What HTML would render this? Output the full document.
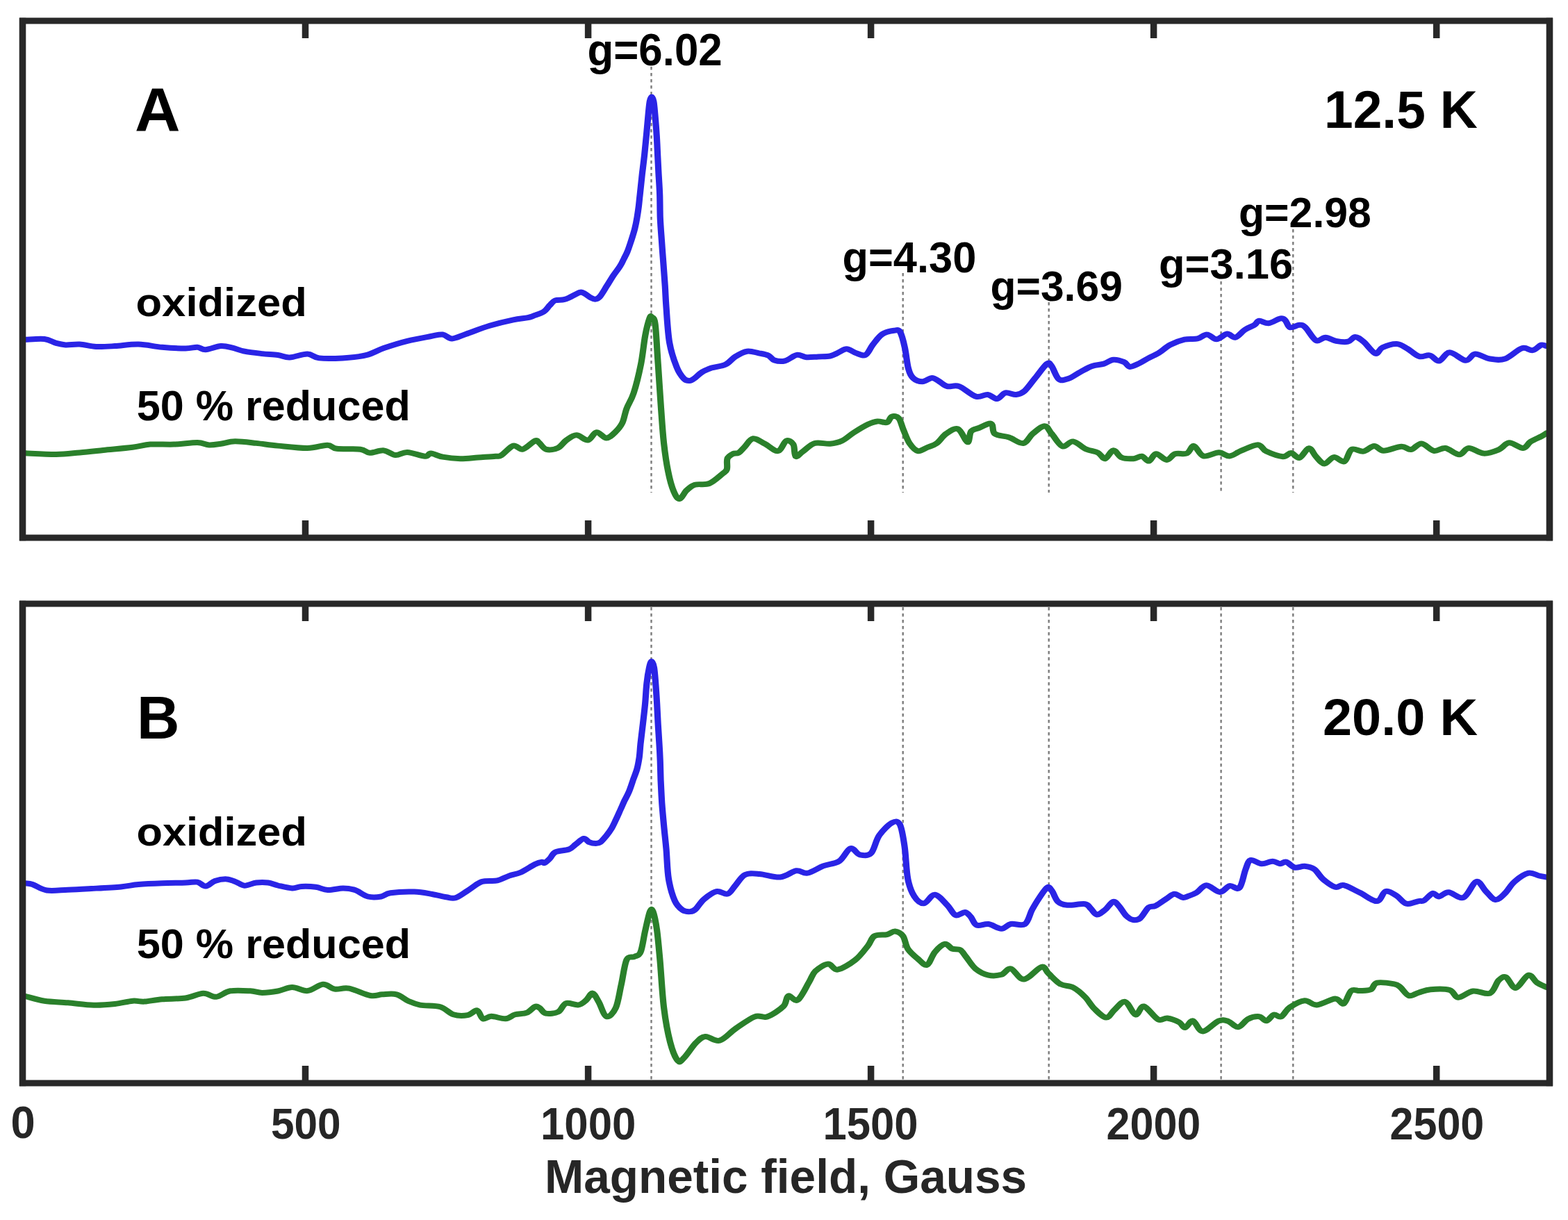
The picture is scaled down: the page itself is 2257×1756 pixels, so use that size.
<!DOCTYPE html>
<html><head><meta charset="utf-8"><title>EPR spectra, oxidized vs 50% reduced</title>
<style>html,body{margin:0;padding:0;background:#fff;} svg{display:block;}</style></head>
<body><svg width="2257" height="1756" viewBox="0 0 2257 1756">
<rect width="2257" height="1756" fill="#fff"/>
<path d="M937.5,96V709M937.5,874V1554" stroke="#7c7c7c" stroke-width="2.4" stroke-dasharray="4.5 4.5"/>
<path d="M1299.7,393V709M1299.7,874V1554" stroke="#7c7c7c" stroke-width="2.4" stroke-dasharray="4.5 4.5"/>
<path d="M1509.7,435V709M1509.7,874V1554" stroke="#7c7c7c" stroke-width="2.4" stroke-dasharray="4.5 4.5"/>
<path d="M1757.6,405V709M1757.6,874V1554" stroke="#7c7c7c" stroke-width="2.4" stroke-dasharray="4.5 4.5"/>
<path d="M1861.3,330V709M1861.3,874V1554" stroke="#7c7c7c" stroke-width="2.4" stroke-dasharray="4.5 4.5"/>
<g transform="scale(1.15,1)" fill="none" stroke-width="8" stroke-linejoin="round" stroke-linecap="round">
<path d="M32.0,488.8C35.9,488.7 49.2,487.1 55.6,488.0C61.9,488.9 65.8,492.5 70.3,493.9C74.7,495.3 77.2,496.1 82.1,496.4C87.0,496.7 93.4,495.2 99.7,495.6C106.1,496.0 113.0,498.6 120.3,499.0C127.7,499.4 135.1,498.7 143.9,498.1C152.8,497.5 163.6,495.3 173.4,495.6C183.2,495.9 193.0,498.8 202.9,499.8C212.7,500.8 225.0,501.5 232.3,501.5C239.7,501.5 242.9,499.5 247.0,499.8C251.2,500.1 252.5,503.5 257.4,503.2C262.3,502.9 270.9,498.5 276.5,498.1C282.2,497.7 286.3,499.4 291.2,500.7C296.1,502.0 299.9,504.3 306.0,505.7C312.1,507.1 321.1,508.2 328.1,509.1C335.1,510.0 342.1,510.1 347.8,511.0C353.6,511.9 356.4,514.8 362.5,514.5C368.7,514.2 378.6,509.4 384.7,509.5C390.8,509.6 392.0,514.4 399.4,515.4C406.8,516.4 419.0,516.1 428.9,515.4C438.7,514.7 449.8,513.6 458.3,511.2C466.9,508.8 471.9,504.4 480.4,501.0C489.0,497.6 500.0,493.6 509.8,490.8C519.6,488.0 531.9,485.6 539.3,484.0C546.7,482.4 549.7,480.9 554.1,481.5C558.5,482.1 560.9,487.5 565.8,487.4C570.7,487.3 575.6,483.8 583.5,480.7C591.3,477.6 603.1,472.2 613.0,468.8C622.8,465.4 634.4,462.2 642.4,460.3C650.4,458.4 656.4,458.3 660.9,457.2C665.3,456.1 666.0,455.3 669.3,453.9C672.6,452.5 677.5,451.1 680.6,448.7C683.7,446.3 685.6,442.4 687.9,439.7C690.3,437.0 691.7,433.9 694.7,432.5C697.7,431.1 702.6,432.1 705.9,431.2C709.2,430.3 711.1,429.1 714.3,427.4C717.6,425.7 722.8,421.8 725.7,420.9C728.5,420.0 729.0,420.9 731.3,422.2C733.7,423.5 737.4,427.3 739.7,428.7C742.1,430.1 743.5,430.9 745.4,430.6C747.3,430.3 748.6,429.8 751.0,426.7C753.3,423.6 756.6,416.9 759.4,411.8C762.2,406.7 765.1,401.2 767.9,396.3C770.7,391.4 774.2,386.7 776.3,382.7C778.5,378.7 779.4,375.9 780.9,372.5C782.3,369.1 783.7,366.8 785.2,362.4C786.8,358.0 788.6,351.4 790.2,345.9C791.7,340.4 793.3,334.9 794.5,329.4C795.7,323.9 796.6,318.5 797.4,313.0C798.2,307.5 798.9,301.9 799.5,296.5C800.1,291.1 800.2,287.9 801.0,280.3C801.7,272.8 802.8,260.9 803.7,251.2C804.7,241.5 805.8,231.8 806.7,222.1C807.6,212.4 808.4,202.7 809.2,193.0C810.0,183.3 810.8,171.6 811.5,163.8C812.2,156.0 812.6,150.1 813.3,146.0C814.0,141.9 814.9,139.5 815.7,139.5C816.4,139.5 817.4,141.9 818.1,146.0C818.8,150.1 819.2,156.0 819.8,163.8C820.4,171.6 821.3,183.3 821.8,193.0C822.4,202.7 822.7,212.4 823.1,222.1C823.6,231.8 824.0,241.5 824.4,251.2C824.9,260.9 825.5,270.0 825.8,280.3C826.1,290.6 826.0,302.1 826.3,313.0C826.7,323.9 827.5,334.9 828.2,345.9C828.8,356.9 829.6,367.8 830.3,378.8C831.0,389.8 831.8,401.3 832.4,411.8C833.0,422.3 833.0,428.2 833.9,441.8C834.8,455.4 835.8,479.0 838.0,493.4C840.2,507.8 844.0,519.8 847.0,528.4C849.9,537.0 853.2,541.6 855.9,544.9C858.6,548.2 860.8,548.1 863.1,548.0C865.4,547.9 867.1,546.2 869.7,544.1C872.3,542.0 875.2,538.0 878.7,535.6C882.2,533.2 885.6,531.5 890.5,529.6C895.5,527.8 903.4,527.2 908.3,524.5C913.3,521.8 915.8,516.5 920.3,513.4C924.7,510.3 930.1,506.5 935.0,505.7C940.0,504.9 945.4,507.3 949.9,508.3C954.4,509.3 958.6,510.0 961.8,511.7C965.0,513.4 965.8,517.2 969.2,518.5C972.7,519.8 977.9,520.7 982.6,519.4C987.3,518.1 992.9,511.7 997.4,510.8C1001.8,509.9 1004.9,513.8 1009.3,514.2C1013.8,514.6 1019.1,513.7 1024.1,513.4C1029.0,513.1 1035.0,513.4 1039.0,512.5C1042.9,511.6 1044.4,510.0 1047.9,508.3C1051.4,506.6 1055.8,502.3 1059.7,502.3C1063.7,502.3 1067.7,506.9 1071.7,508.3C1075.6,509.7 1080.0,512.8 1083.5,510.8C1086.9,508.8 1089.0,501.3 1092.4,496.3C1095.9,491.3 1099.8,484.4 1104.3,481.0C1108.7,477.6 1115.4,476.4 1119.1,475.8C1122.8,475.2 1124.3,473.5 1126.5,477.5C1128.7,481.5 1130.7,490.9 1132.4,499.7C1134.2,508.5 1135.2,523.1 1137.0,530.5C1138.7,537.9 1139.9,541.0 1142.9,544.1C1145.8,547.2 1150.7,549.2 1154.7,549.2C1158.7,549.2 1163.1,544.0 1166.6,544.0C1170.1,544.0 1172.3,547.0 1175.5,549.0C1178.7,551.0 1181.6,554.9 1185.8,556.1C1190.0,557.3 1194.7,553.7 1200.6,556.1C1206.5,558.5 1215.4,568.6 1221.4,570.6C1227.3,572.6 1231.8,567.4 1236.3,568.0C1240.7,568.6 1244.4,574.4 1248.1,574.0C1251.8,573.6 1254.6,566.4 1258.5,565.4C1262.5,564.4 1267.9,568.4 1271.8,568.0C1275.8,567.6 1278.3,566.9 1282.3,562.9C1286.2,558.9 1291.0,550.6 1295.7,544.1C1300.3,537.6 1307.0,526.5 1310.4,523.6C1313.9,520.8 1313.9,523.3 1316.3,527.0C1318.8,530.7 1321.8,542.8 1325.3,545.8C1328.8,548.8 1332.7,546.7 1337.1,545.0C1341.6,543.3 1347.0,538.6 1352.0,535.6C1357.0,532.6 1361.9,529.0 1366.9,527.0C1371.8,525.0 1377.2,525.1 1381.7,523.6C1386.1,522.1 1389.3,518.1 1393.6,517.7C1397.8,517.3 1403.5,519.4 1407.0,521.1C1410.4,522.8 1411.1,527.6 1414.3,527.9C1417.6,528.2 1422.3,524.9 1426.3,522.8C1430.2,520.7 1434.1,517.5 1438.1,515.1C1442.0,512.7 1445.6,511.4 1450.0,508.3C1454.4,505.2 1459.3,499.6 1464.8,496.3C1470.2,493.0 1476.9,490.1 1482.6,488.6C1488.3,487.1 1494.2,488.6 1498.9,487.4C1503.6,486.2 1506.7,481.2 1510.7,481.4C1514.7,481.5 1518.4,488.4 1522.6,488.3C1526.8,488.2 1532.0,481.0 1535.9,480.6C1539.9,480.2 1542.6,486.7 1546.3,485.7C1550.1,484.7 1554.2,477.6 1558.2,474.6C1562.1,471.6 1567.1,469.9 1570.1,467.8C1573.1,465.7 1573.0,462.2 1576.0,461.8C1579.0,461.4 1583.5,465.8 1587.9,465.2C1592.4,464.6 1599.2,459.1 1602.7,458.4C1606.2,457.7 1606.7,458.9 1608.7,461.0C1610.7,463.1 1611.7,470.1 1614.6,471.2C1617.6,472.3 1623.2,467.8 1626.4,467.8C1629.7,467.8 1630.4,467.5 1633.9,471.2C1637.4,474.9 1643.0,487.6 1647.2,490.0C1651.4,492.4 1654.9,485.6 1659.1,485.7C1663.3,485.8 1667.7,489.8 1672.4,490.8C1677.1,491.8 1683.3,492.7 1687.3,491.7C1691.3,490.7 1693.0,484.9 1696.3,484.9C1699.5,484.9 1702.4,487.7 1706.6,491.7C1710.8,495.7 1717.5,507.4 1721.5,508.8C1725.4,510.2 1725.9,502.5 1730.3,500.2C1734.8,497.9 1743.0,494.8 1748.2,495.1C1753.4,495.4 1756.9,498.9 1761.6,501.9C1766.3,504.9 1771.7,511.4 1776.3,513.0C1781.0,514.6 1785.6,510.4 1789.7,511.5C1793.9,512.6 1797.1,520.2 1801.2,519.5C1805.3,518.8 1809.0,507.4 1814.5,507.3C1820.1,507.2 1829.2,518.4 1834.5,518.8C1839.8,519.2 1841.3,510.0 1846.4,509.6C1851.5,509.2 1858.8,515.4 1865.0,516.5C1871.3,517.6 1877.1,519.0 1883.7,516.5C1890.4,514.0 1899.2,503.2 1905.0,501.2C1910.7,499.1 1914.3,505.0 1918.3,504.2C1922.3,503.4 1926.1,497.6 1929.0,496.6C1931.8,495.6 1934.5,497.9 1935.6,498.1" stroke="#2a24e6"/>
<path d="M32.0,652.3C38.4,652.6 59.0,654.1 70.3,654.0C81.6,653.9 89.9,652.4 99.7,651.4C109.6,650.4 118.2,649.3 129.2,648.0C140.3,646.7 156.2,645.2 166.0,643.8C175.8,642.4 179.5,640.3 188.1,639.6C196.7,638.9 207.7,640.0 217.6,639.6C227.4,639.2 239.7,636.9 247.0,637.0C254.4,637.1 256.8,640.1 261.7,640.4C266.7,640.7 271.1,639.6 276.5,638.7C281.9,637.9 286.8,635.4 294.2,635.3C301.5,635.2 311.8,636.8 320.7,637.9C329.6,639.0 337.2,640.4 347.8,641.6C358.5,642.8 374.4,645.1 384.7,645.0C395.0,644.9 403.6,640.6 409.7,640.7C415.9,640.8 414.6,644.8 421.5,645.8C428.3,646.8 444.1,645.7 451.0,646.7C457.8,647.7 457.8,651.5 462.7,651.8C467.6,652.1 475.0,647.8 480.4,648.4C485.8,649.0 490.2,654.7 495.1,655.1C500.0,655.5 503.7,650.6 509.8,650.9C516.0,651.2 527.1,656.5 532.0,656.8C536.9,657.1 535.6,652.5 539.3,652.6C543.0,652.8 547.9,656.4 554.1,657.7C560.2,659.0 568.8,660.1 576.2,660.2C583.5,660.3 590.9,659.1 598.3,658.5C605.6,657.9 615.4,657.4 620.3,656.8C625.3,656.2 624.1,657.6 627.7,655.1C631.4,652.6 638.0,643.0 642.4,641.6C646.9,640.2 649.7,647.9 654.3,646.7C658.8,645.5 666.1,636.0 669.6,634.5C673.0,633.0 672.6,635.5 675.0,637.6C677.3,639.7 680.0,645.7 683.9,646.9C687.8,648.1 694.1,647.0 698.3,644.8C702.4,642.6 705.1,636.6 709.0,633.5C712.8,630.4 717.1,626.3 721.6,626.3C726.1,626.3 731.7,634.2 735.9,633.5C740.1,632.8 742.7,622.7 746.6,622.2C750.5,621.7 755.2,630.4 759.1,630.4C763.0,630.4 766.6,625.8 769.9,622.2C773.2,618.6 776.5,614.5 778.9,608.8C781.3,603.1 781.9,595.4 784.3,588.2C786.7,581.0 790.2,576.1 793.2,565.5C796.2,554.9 799.8,538.0 802.2,524.3C804.6,510.5 805.8,494.0 807.6,483.0C809.4,472.0 811.6,462.8 813.0,458.3C814.3,453.9 814.5,454.9 815.7,456.3C816.8,457.7 818.8,455.3 820.1,466.6C821.4,477.9 822.4,504.4 823.7,524.3C824.9,544.2 826.1,567.2 827.3,586.1C828.5,605.0 829.4,622.2 830.9,637.6C832.4,653.0 834.2,667.1 836.3,678.8C838.3,690.5 841.0,701.2 843.4,707.7C845.8,714.2 847.9,718.4 850.6,718.0C853.3,717.6 856.4,709.0 859.6,705.6C862.8,702.2 865.1,699.3 869.7,697.7C874.4,696.1 881.9,698.5 887.6,696.0C893.3,693.5 900.2,685.8 903.9,682.4C907.6,679.0 908.7,679.2 909.8,675.5C910.9,671.8 909.2,663.9 910.4,660.2C911.7,656.5 914.9,654.7 917.3,653.3C919.7,651.9 922.2,653.3 924.7,651.6C927.2,649.9 929.1,646.5 932.1,643.1C935.1,639.7 938.3,631.9 942.5,631.2C946.7,630.5 952.1,635.8 957.3,638.8C962.5,641.8 969.2,649.8 973.7,649.1C978.1,648.4 980.9,636.2 984.1,634.6C987.3,633.0 991.0,636.0 993.0,639.7C994.9,643.4 993.9,655.1 995.9,656.8C997.9,658.5 1000.9,653.0 1004.9,649.9C1008.8,646.8 1014.0,639.9 1019.7,638.0C1025.3,636.1 1033.3,639.4 1039.0,638.8C1044.7,638.2 1048.9,637.3 1053.8,634.6C1058.8,631.9 1063.3,626.6 1068.7,622.6C1074.1,618.6 1081.5,613.4 1086.4,610.7C1091.4,608.0 1094.4,606.8 1098.3,606.4C1102.3,606.0 1107.2,609.2 1110.2,608.1C1113.1,607.0 1113.7,600.6 1116.2,599.6C1118.7,598.6 1122.6,598.8 1125.0,602.1C1127.5,605.4 1128.7,613.2 1131.0,619.2C1133.2,625.2 1135.5,633.0 1138.4,638.0C1141.4,643.0 1145.1,648.1 1148.8,649.1C1152.5,650.1 1156.7,645.9 1160.7,644.0C1164.7,642.1 1168.6,641.3 1172.5,638.0C1176.4,634.7 1179.8,627.7 1184.3,624.3C1188.7,620.9 1194.7,615.5 1199.1,617.5C1203.6,619.5 1208.3,635.7 1211.0,636.3C1213.8,636.9 1213.0,624.3 1215.5,620.9C1217.9,617.5 1221.6,617.6 1225.8,615.8C1230.0,613.9 1237.5,608.4 1240.7,609.8C1243.9,611.2 1241.4,621.0 1245.1,624.3C1248.8,627.6 1257.0,627.2 1263.0,629.5C1268.9,631.8 1275.8,638.9 1280.8,638.0C1285.7,637.1 1288.2,628.4 1292.6,624.3C1297.1,620.2 1303.5,613.2 1307.5,613.2C1311.4,613.2 1312.6,619.4 1316.3,624.3C1320.1,629.1 1325.3,640.4 1329.7,642.3C1334.2,644.1 1338.2,634.7 1343.1,635.4C1348.1,636.1 1354.2,643.8 1359.4,646.5C1364.6,649.2 1370.3,649.3 1374.3,651.6C1378.2,653.9 1380.0,660.8 1383.2,660.2C1386.4,659.6 1390.1,648.5 1393.6,648.2C1397.0,647.9 1399.7,656.5 1403.9,658.5C1408.1,660.5 1414.6,660.5 1418.8,660.2C1423.0,659.9 1426.0,656.2 1429.2,656.8C1432.4,657.4 1435.1,664.2 1438.1,663.6C1441.0,663.0 1443.2,653.6 1447.0,653.3C1450.7,653.0 1456.4,661.9 1460.3,661.9C1464.3,661.9 1466.6,654.9 1470.8,653.3C1475.0,651.7 1481.6,654.4 1485.6,652.5C1489.5,650.6 1490.9,641.2 1494.3,641.9C1497.8,642.5 1501.1,654.8 1506.3,656.4C1511.5,658.0 1520.1,651.3 1525.6,651.3C1531.0,651.3 1534.2,656.8 1538.9,656.4C1543.6,656.0 1547.8,651.4 1553.7,648.7C1559.7,646.0 1569.3,640.1 1574.5,640.2C1579.7,640.4 1579.7,646.8 1584.9,649.6C1590.1,652.4 1600.4,656.8 1605.7,657.2C1610.9,657.6 1612.6,651.8 1616.1,652.1C1619.6,652.4 1622.7,660.0 1626.4,658.9C1630.1,657.8 1634.9,645.6 1638.3,645.3C1641.8,645.0 1644.0,653.5 1647.2,657.2C1650.4,660.9 1653.9,667.4 1657.7,667.5C1661.4,667.6 1665.3,658.7 1669.5,658.1C1673.7,657.5 1679.2,666.0 1682.9,664.1C1686.6,662.2 1687.8,649.4 1691.7,647.0C1695.7,644.6 1701.9,650.5 1706.6,649.6C1711.3,648.8 1715.8,642.0 1720.0,641.9C1724.2,641.8 1726.1,648.6 1731.8,648.7C1737.5,648.8 1748.4,643.0 1754.1,642.7C1759.8,642.4 1761.8,647.7 1766.0,647.0C1770.2,646.3 1774.5,638.2 1779.3,638.5C1784.1,638.8 1789.6,647.7 1794.6,648.8C1799.6,649.9 1803.9,644.1 1809.2,645.0C1814.5,645.9 1821.7,654.2 1826.5,654.2C1831.4,654.2 1833.3,645.3 1838.4,645.0C1843.5,644.7 1850.9,652.2 1857.1,652.6C1863.3,653.0 1870.4,649.8 1875.7,647.3C1881.1,644.8 1883.9,637.7 1889.0,637.3C1894.1,636.9 1901.9,645.2 1906.3,645.0C1910.8,644.8 1911.9,638.6 1915.7,635.8C1919.4,633.0 1925.6,630.2 1929.0,628.2C1932.3,626.2 1934.5,624.4 1935.6,623.6" stroke="#2a802b"/>
<path d="M32.0,1271.3C33.5,1271.6 36.4,1271.3 40.8,1273.0C45.2,1274.7 51.1,1280.2 58.5,1281.5C65.9,1282.8 75.7,1281.1 85.0,1280.7C94.4,1280.3 103.4,1279.7 114.4,1279.0C125.5,1278.3 141.5,1277.4 151.3,1276.4C161.1,1275.4 164.8,1273.8 173.4,1273.0C182.0,1272.2 193.0,1271.7 202.9,1271.3C212.7,1270.9 225.0,1270.8 232.3,1270.5C239.7,1270.2 242.9,1268.8 247.0,1269.6C251.2,1270.4 253.7,1275.9 257.4,1275.6C261.1,1275.3 264.7,1269.7 269.1,1268.0C273.6,1266.3 279.5,1265.1 283.9,1265.4C288.3,1265.7 292.0,1268.0 295.7,1269.6C299.3,1271.1 301.8,1274.5 306.0,1274.7C310.2,1274.9 315.8,1271.2 320.7,1270.5C325.6,1269.8 331.0,1269.8 335.5,1270.5C340.0,1271.2 342.8,1273.2 347.8,1274.5C352.9,1275.8 360.7,1278.2 365.7,1278.5C370.6,1278.8 372.5,1276.3 377.5,1276.0C382.4,1275.7 389.9,1276.0 395.3,1276.8C400.8,1277.6 404.5,1280.8 410.2,1281.1C415.9,1281.4 423.8,1278.5 429.5,1278.5C435.2,1278.5 439.1,1279.1 444.3,1281.1C449.4,1283.1 455.2,1288.9 460.6,1290.5C466.1,1292.1 472.3,1291.4 477.0,1290.5C481.7,1289.6 481.9,1286.5 488.8,1285.3C495.7,1284.1 509.9,1283.3 518.5,1283.6C527.2,1283.9 534.1,1285.7 540.8,1287.0C547.5,1288.3 553.7,1290.4 558.6,1291.3C563.6,1292.2 566.0,1293.8 570.4,1292.2C574.9,1290.6 579.9,1285.8 585.3,1281.9C590.8,1278.1 596.9,1271.5 603.1,1269.1C609.3,1266.7 616.8,1268.8 622.4,1267.4C628.1,1266.0 632.3,1262.6 637.2,1260.6C642.2,1258.6 646.7,1258.3 652.1,1255.5C657.5,1252.7 665.2,1246.5 669.6,1244.0C673.9,1241.5 676.2,1241.0 678.3,1240.7C680.3,1240.4 680.0,1242.9 681.7,1242.0C683.4,1241.1 686.2,1238.1 688.4,1235.5C690.7,1232.9 691.2,1228.6 695.1,1226.4C699.1,1224.2 707.9,1224.3 712.1,1222.5C716.3,1220.7 717.4,1218.0 720.5,1215.4C723.6,1212.8 727.8,1207.5 730.6,1207.0C733.4,1206.5 734.9,1211.0 737.4,1212.2C739.9,1213.4 743.5,1214.1 745.8,1214.1C748.2,1214.1 749.3,1214.0 751.5,1212.2C753.6,1210.4 756.4,1206.4 758.8,1203.1C761.1,1199.8 763.5,1196.1 765.6,1192.1C767.6,1188.1 769.3,1183.6 771.2,1179.1C773.1,1174.6 775.1,1169.2 776.8,1164.9C778.5,1160.6 779.6,1157.5 781.3,1153.2C783.1,1149.0 785.5,1144.4 787.3,1139.4C789.1,1134.4 790.7,1128.5 792.3,1123.0C794.0,1117.5 796.1,1112.0 797.4,1106.5C798.7,1101.0 799.4,1095.9 800.2,1090.0C800.9,1084.1 801.0,1078.9 801.7,1070.9C802.5,1062.9 803.7,1051.5 804.7,1041.8C805.7,1032.1 806.7,1022.4 807.5,1012.7C808.3,1003.0 808.6,992.1 809.5,983.5C810.3,974.9 811.6,966.2 812.6,961.0C813.6,955.8 814.6,952.0 815.6,952.0C816.6,952.0 817.9,955.8 818.7,961.0C819.5,966.2 820.0,974.9 820.6,983.5C821.2,992.1 821.8,1003.0 822.3,1012.7C822.8,1022.4 823.1,1032.1 823.6,1041.8C824.1,1051.5 824.8,1062.0 825.2,1070.9C825.7,1079.8 826.0,1086.5 826.3,1095.2C826.6,1103.9 826.7,1112.9 827.0,1123.0C827.4,1133.1 827.9,1144.9 828.5,1155.9C829.2,1166.9 830.1,1177.8 831.0,1188.8C831.9,1199.8 832.9,1209.1 833.9,1221.8C834.9,1234.5 835.1,1252.6 836.9,1265.1C838.7,1277.5 841.7,1289.0 844.6,1296.5C847.5,1304.0 851.1,1307.3 854.3,1309.9C857.6,1312.5 861.3,1312.3 864.1,1312.1C866.8,1311.8 868.1,1311.3 870.9,1308.4C873.7,1305.5 876.6,1298.8 880.9,1294.6C885.2,1290.4 891.8,1284.4 896.8,1283.1C901.8,1281.8 906.8,1288.1 910.8,1286.6C914.8,1285.1 917.1,1278.5 920.8,1273.9C924.4,1269.3 927.7,1261.7 932.7,1259.0C937.7,1256.3 943.4,1257.3 950.7,1257.9C958.0,1258.5 969.0,1263.3 976.6,1262.5C984.3,1261.7 991.0,1254.3 996.6,1253.3C1002.3,1252.3 1004.9,1257.8 1010.5,1256.7C1016.2,1255.6 1023.9,1249.3 1030.5,1246.4C1037.2,1243.5 1044.8,1243.7 1050.4,1239.5C1056.1,1235.3 1060.1,1222.7 1064.4,1221.2C1068.8,1219.7 1072.1,1229.2 1076.4,1230.3C1080.8,1231.4 1086.4,1232.6 1090.3,1228.0C1094.3,1223.4 1096.0,1210.1 1100.3,1202.8C1104.7,1195.5 1112.0,1187.1 1116.3,1184.4C1120.7,1181.7 1123.7,1181.0 1126.3,1186.7C1129.0,1192.5 1130.6,1205.9 1132.3,1218.9C1133.9,1231.9 1134.3,1253.0 1136.3,1264.8C1138.3,1276.6 1140.9,1284.1 1144.3,1290.0C1147.6,1295.9 1151.9,1300.7 1156.3,1300.3C1160.6,1299.9 1165.3,1287.3 1170.2,1287.7C1175.1,1288.1 1181.4,1297.9 1185.7,1302.8C1190.0,1307.7 1192.3,1315.5 1196.0,1317.2C1199.7,1318.9 1204.6,1312.6 1207.8,1313.0C1211.0,1313.4 1212.7,1316.7 1215.1,1319.8C1217.6,1322.9 1218.8,1329.9 1222.5,1331.6C1226.2,1333.3 1232.1,1329.2 1237.2,1330.0C1242.4,1330.8 1248.8,1336.7 1253.5,1336.7C1258.1,1336.7 1260.3,1331.1 1265.2,1330.0C1270.1,1328.9 1278.5,1333.4 1283.0,1330.0C1287.4,1326.6 1288.8,1315.8 1291.7,1309.6C1294.7,1303.4 1297.4,1298.1 1300.6,1292.7C1303.8,1287.3 1308.2,1279.1 1310.9,1277.4C1313.6,1275.7 1314.6,1279.1 1316.8,1282.5C1319.0,1285.9 1321.0,1294.4 1324.2,1297.8C1327.4,1301.2 1330.3,1302.2 1335.9,1302.8C1341.6,1303.4 1353.2,1300.3 1358.1,1301.2C1363.0,1302.1 1362.9,1305.4 1365.4,1307.9C1367.8,1310.4 1369.8,1316.1 1372.8,1316.4C1375.7,1316.7 1379.7,1312.7 1383.1,1309.6C1386.6,1306.5 1390.4,1298.6 1393.4,1297.8C1396.3,1297.0 1398.1,1301.1 1400.8,1304.5C1403.5,1307.9 1406.6,1314.8 1409.6,1318.1C1412.5,1321.3 1415.5,1323.4 1418.4,1324.0C1421.4,1324.6 1424.1,1324.5 1427.3,1321.5C1430.5,1318.5 1434.4,1309.2 1437.6,1306.2C1440.8,1303.2 1442.5,1306.0 1446.4,1303.7C1450.4,1301.5 1457.2,1295.5 1461.1,1292.7C1465.1,1289.9 1466.8,1287.0 1470.0,1286.8C1473.2,1286.6 1477.5,1291.3 1480.3,1291.8C1483.2,1292.3 1484.1,1291.2 1487.0,1290.0C1489.9,1288.8 1493.9,1287.4 1497.7,1284.8C1501.6,1282.2 1505.1,1274.3 1510.0,1274.2C1514.9,1274.1 1522.0,1283.8 1526.9,1283.9C1531.7,1284.1 1535.0,1276.1 1539.1,1275.1C1543.2,1274.1 1548.1,1281.7 1551.5,1277.7C1554.8,1273.7 1556.8,1257.8 1559.1,1251.2C1561.4,1244.6 1562.0,1239.3 1565.3,1238.0C1568.6,1236.7 1574.5,1243.0 1579.1,1243.3C1583.7,1243.6 1589.1,1239.7 1593.0,1239.7C1596.8,1239.7 1599.4,1243.2 1602.2,1243.3C1605.0,1243.4 1606.8,1239.7 1609.8,1240.6C1612.9,1241.5 1616.8,1247.6 1620.6,1248.6C1624.4,1249.6 1628.8,1246.4 1632.9,1246.8C1637.0,1247.2 1641.3,1248.1 1645.1,1251.2C1649.0,1254.3 1651.6,1261.0 1655.9,1265.3C1660.3,1269.6 1666.9,1275.3 1671.2,1276.8C1675.6,1278.3 1676.9,1272.9 1682.0,1274.2C1687.1,1275.5 1695.1,1281.0 1702.0,1284.8C1708.9,1288.6 1718.1,1297.4 1723.5,1297.1C1728.9,1296.8 1730.2,1284.3 1734.3,1283.0C1738.3,1281.7 1743.7,1286.2 1748.0,1289.2C1752.3,1292.2 1755.7,1299.4 1760.3,1300.7C1765.0,1302.0 1771.9,1297.9 1775.7,1297.1C1779.4,1296.3 1779.7,1297.9 1782.6,1296.0C1785.5,1294.1 1790.1,1286.7 1793.2,1285.8C1796.3,1284.9 1797.9,1290.7 1801.2,1290.4C1804.6,1290.1 1808.1,1284.0 1813.2,1284.2C1818.3,1284.5 1826.1,1294.4 1831.8,1291.9C1837.6,1289.4 1843.2,1270.5 1847.8,1269.0C1852.5,1267.5 1855.8,1278.4 1859.7,1282.7C1863.7,1287.0 1867.7,1294.5 1871.7,1295.0C1875.7,1295.5 1879.8,1290.1 1883.7,1285.8C1887.7,1281.5 1890.8,1273.8 1895.7,1269.0C1900.5,1264.2 1907.9,1258.1 1913.0,1256.7C1918.1,1255.3 1922.5,1259.5 1926.3,1260.5C1930.0,1261.5 1934.1,1262.2 1935.7,1262.5" stroke="#2a24e6"/>
<path d="M32.0,1434.0C35.9,1435.1 46.7,1439.2 55.6,1440.7C64.4,1442.2 74.7,1442.3 85.0,1443.3C95.3,1444.3 107.6,1446.4 117.4,1446.7C127.2,1447.0 135.8,1446.0 143.9,1445.0C152.0,1444.0 159.9,1441.3 166.0,1440.7C172.1,1440.1 174.6,1442.0 180.8,1441.6C186.9,1441.2 194.3,1439.0 202.9,1438.2C211.5,1437.4 223.8,1437.9 232.3,1436.5C240.9,1435.1 248.1,1430.0 254.4,1429.7C260.8,1429.4 265.0,1435.4 270.6,1434.8C276.2,1434.2 281.1,1427.7 288.3,1426.3C295.4,1424.9 306.7,1425.9 313.3,1426.3C319.9,1426.7 322.3,1428.9 328.1,1428.9C333.8,1428.9 341.6,1427.8 347.8,1426.5C354.1,1425.2 359.5,1421.1 365.7,1421.0C371.8,1420.9 378.5,1426.8 385.0,1426.1C391.4,1425.4 398.6,1417.2 404.3,1416.8C409.9,1416.4 413.6,1422.6 419.0,1423.6C424.5,1424.6 429.4,1421.1 436.9,1422.7C444.3,1424.3 456.6,1431.6 463.6,1433.0C470.5,1434.4 473.0,1431.6 478.4,1431.3C483.9,1431.0 490.8,1429.7 496.3,1431.3C501.7,1432.9 506.1,1438.2 511.0,1440.7C516.0,1443.2 519.2,1445.2 525.9,1446.6C532.6,1448.0 544.2,1446.9 551.1,1449.2C558.1,1451.5 561.8,1458.3 567.5,1460.3C573.2,1462.3 580.4,1462.1 585.3,1461.1C590.2,1460.1 593.9,1453.4 597.1,1454.3C600.3,1455.2 601.6,1464.9 604.6,1466.3C607.6,1467.7 610.3,1462.8 615.0,1462.8C619.7,1462.8 627.8,1466.7 632.8,1466.3C637.7,1465.9 640.2,1461.7 644.7,1460.3C649.1,1458.9 655.3,1459.6 659.5,1457.7C663.6,1455.8 666.9,1450.2 669.6,1449.0C672.2,1447.8 673.1,1449.2 675.4,1450.8C677.7,1452.4 679.3,1457.8 683.2,1458.7C687.1,1459.6 694.6,1458.8 698.8,1456.4C703.0,1454.0 704.2,1445.8 708.4,1444.1C712.6,1442.4 719.8,1447.2 724.0,1446.4C728.2,1445.7 730.8,1442.4 733.7,1439.6C736.7,1436.8 739.0,1429.2 741.6,1429.6C744.2,1430.0 746.4,1436.3 749.3,1441.9C752.2,1447.5 755.5,1461.6 759.0,1463.1C762.6,1464.6 767.6,1458.4 770.7,1450.8C773.8,1443.2 775.3,1428.8 777.6,1417.3C779.8,1405.8 781.6,1388.2 784.3,1381.5C787.1,1374.8 791.2,1378.9 794.1,1377.0C797.0,1375.1 799.6,1376.6 801.8,1370.3C804.1,1364.0 805.7,1348.7 807.7,1339.0C809.6,1329.3 811.9,1316.6 813.5,1312.1C815.1,1307.6 815.9,1307.6 817.4,1312.1C818.9,1316.6 820.8,1327.1 822.3,1339.0C823.7,1350.9 824.7,1365.1 826.2,1383.7C827.6,1402.3 828.9,1431.4 831.0,1450.8C833.1,1470.2 835.9,1487.3 838.8,1500.0C841.7,1512.7 845.6,1523.2 848.5,1526.9C851.4,1530.6 852.6,1526.7 856.3,1522.4C860.1,1518.1 866.5,1506.3 870.9,1501.2C875.3,1496.1 877.8,1492.6 882.8,1492.0C887.8,1491.4 894.4,1499.6 900.8,1497.7C907.1,1495.8 913.5,1486.2 920.8,1480.5C928.1,1474.8 938.0,1466.2 944.7,1463.3C951.3,1460.4 954.7,1465.8 960.7,1463.3C966.7,1460.8 976.3,1453.4 980.6,1448.4C984.9,1443.4 983.6,1435.0 986.6,1433.5C989.6,1432.0 994.3,1442.5 998.6,1439.2C1002.9,1435.9 1008.9,1420.8 1012.5,1413.9C1016.2,1407.0 1016.5,1402.3 1020.5,1397.9C1024.5,1393.5 1031.9,1387.9 1036.5,1387.5C1041.2,1387.1 1042.8,1396.5 1048.4,1395.6C1054.1,1394.6 1064.1,1387.5 1070.4,1381.8C1076.8,1376.1 1082.4,1366.9 1086.4,1361.2C1090.4,1355.5 1090.4,1350.1 1094.3,1347.4C1098.3,1344.7 1106.0,1346.2 1110.3,1345.1C1114.7,1343.9 1117.0,1340.1 1120.3,1340.5C1123.7,1340.9 1127.6,1343.2 1130.3,1347.4C1132.9,1351.6 1133.3,1360.4 1136.3,1365.7C1139.3,1371.0 1144.3,1375.7 1148.3,1379.5C1152.3,1383.3 1156.6,1390.2 1160.3,1388.7C1163.9,1387.2 1166.4,1375.3 1170.2,1370.3C1173.9,1365.3 1179.2,1359.5 1182.8,1358.7C1186.3,1357.9 1188.4,1364.1 1191.6,1365.5C1194.8,1366.9 1199.0,1365.2 1201.9,1367.2C1204.9,1369.2 1206.1,1372.9 1209.3,1377.4C1212.5,1381.9 1216.4,1389.9 1221.0,1394.3C1225.7,1398.7 1231.8,1402.2 1237.2,1403.6C1242.6,1405.0 1248.8,1404.3 1253.5,1402.8C1258.1,1401.2 1260.6,1393.2 1265.2,1394.3C1269.9,1395.4 1275.1,1410.0 1281.5,1409.6C1287.9,1409.2 1298.4,1393.2 1303.6,1391.8C1308.7,1390.4 1308.4,1397.0 1312.3,1401.1C1316.3,1405.2 1322.0,1412.9 1327.1,1416.3C1332.3,1419.7 1338.1,1418.3 1343.3,1421.4C1348.5,1424.5 1353.7,1429.9 1358.1,1435.0C1362.5,1440.1 1365.4,1447.0 1369.8,1451.9C1374.2,1456.8 1380.3,1464.3 1384.5,1464.6C1388.7,1464.9 1390.9,1457.4 1394.9,1453.6C1398.8,1449.8 1403.8,1440.7 1408.2,1441.8C1412.6,1442.9 1417.5,1459.3 1421.4,1460.4C1425.3,1461.5 1427.1,1447.4 1431.7,1448.5C1436.4,1449.6 1444.5,1464.4 1449.4,1467.2C1454.3,1470.0 1456.7,1464.8 1461.1,1465.5C1465.6,1466.2 1472.2,1469.2 1475.9,1471.4C1479.6,1473.7 1480.4,1479.3 1483.3,1479.0C1486.2,1478.7 1489.4,1468.4 1493.1,1469.3C1496.8,1470.2 1500.0,1484.4 1505.4,1484.4C1510.8,1484.4 1520.0,1471.7 1525.4,1469.3C1530.8,1466.9 1533.6,1468.7 1537.7,1470.2C1541.7,1471.7 1545.8,1478.8 1549.9,1478.2C1554.0,1477.6 1557.8,1469.2 1562.2,1466.7C1566.5,1464.2 1572.2,1462.8 1576.0,1463.2C1579.8,1463.6 1582.1,1469.8 1585.2,1469.3C1588.3,1468.8 1591.4,1461.5 1594.4,1460.5C1597.5,1459.5 1600.3,1465.0 1603.7,1463.2C1607.0,1461.4 1609.6,1453.7 1614.4,1449.9C1619.3,1446.1 1627.2,1440.8 1632.9,1440.2C1638.5,1439.6 1641.8,1446.9 1648.2,1446.4C1654.6,1446.0 1665.6,1437.8 1671.2,1437.5C1676.9,1437.2 1678.7,1446.5 1682.0,1444.6C1685.3,1442.7 1687.9,1429.2 1691.2,1426.1C1694.6,1423.0 1697.9,1426.4 1702.0,1426.1C1706.1,1425.8 1712.2,1426.2 1715.8,1424.3C1719.4,1422.4 1718.6,1415.9 1723.5,1414.6C1728.3,1413.3 1740.1,1415.4 1745.0,1416.4C1749.8,1417.4 1749.5,1418.0 1752.6,1420.8C1755.7,1423.6 1759.6,1431.8 1763.4,1433.1C1767.2,1434.4 1771.1,1430.2 1775.7,1428.7C1780.2,1427.2 1784.1,1424.8 1790.6,1424.2C1797.1,1423.6 1808.8,1423.1 1814.5,1425.0C1820.3,1426.9 1820.3,1435.5 1825.2,1435.7C1830.1,1436.0 1837.2,1427.5 1843.8,1426.5C1850.5,1425.5 1859.7,1432.1 1865.0,1429.6C1870.4,1427.0 1872.4,1415.0 1875.7,1411.2C1879.1,1407.4 1881.5,1404.8 1885.0,1406.6C1888.6,1408.4 1892.4,1422.4 1897.0,1421.9C1901.7,1421.4 1908.5,1404.9 1913.0,1403.6C1917.4,1402.3 1919.9,1411.4 1923.7,1414.3C1927.4,1417.2 1933.7,1419.9 1935.7,1421.0" stroke="#2a802b"/>
</g>
<path d="M28.0,30H2235.0M28.0,774H2235.0" stroke="#282828" stroke-width="9"/>
<path d="M32.5,25.7V778.3M2230.5,25.7V778.3" stroke="#282828" stroke-width="9.6"/>
<path d="M439.5,30V55M439.5,774V749" stroke="#282828" stroke-width="9.5"/>
<path d="M846.6,30V55M846.6,774V749" stroke="#282828" stroke-width="9.5"/>
<path d="M1253.6,30V55M1253.6,774V749" stroke="#282828" stroke-width="9.5"/>
<path d="M1660.6,30V55M1660.6,774V749" stroke="#282828" stroke-width="9.5"/>
<path d="M2067.7,30V55M2067.7,774V749" stroke="#282828" stroke-width="9.5"/>
<path d="M28.0,869H2235.0M28.0,1559H2235.0" stroke="#282828" stroke-width="9"/>
<path d="M32.5,864.7V1563.3M2230.5,864.7V1563.3" stroke="#282828" stroke-width="9.6"/>
<path d="M439.5,869V894M439.5,1559V1534" stroke="#282828" stroke-width="9.5"/>
<path d="M846.6,869V894M846.6,1559V1534" stroke="#282828" stroke-width="9.5"/>
<path d="M1253.6,869V894M1253.6,1559V1534" stroke="#282828" stroke-width="9.5"/>
<path d="M1660.6,869V894M1660.6,1559V1534" stroke="#282828" stroke-width="9.5"/>
<path d="M2067.7,869V894M2067.7,1559V1534" stroke="#282828" stroke-width="9.5"/>
<text x="194.00" y="189.00" font-size="88.49" font-family="Liberation Sans, Arial, sans-serif" font-weight="bold" fill="#000" textLength="65.53" lengthAdjust="spacingAndGlyphs">A</text>
<text x="1906.00" y="184.10" font-size="75.81" font-family="Liberation Sans, Arial, sans-serif" font-weight="bold" fill="#000" textLength="220.74" lengthAdjust="spacingAndGlyphs">12.5 K</text>
<text x="195.50" y="455.40" font-size="57.48" font-family="Liberation Sans, Arial, sans-serif" font-weight="bold" fill="#000" textLength="246.40" lengthAdjust="spacingAndGlyphs">oxidized</text>
<text x="196.75" y="604.65" font-size="61.81" font-family="Liberation Sans, Arial, sans-serif" font-weight="bold" fill="#000" textLength="393.98" lengthAdjust="spacingAndGlyphs">50 % reduced</text>
<text x="845.50" y="94.20" font-size="64.53" font-family="Liberation Sans, Arial, sans-serif" font-weight="bold" fill="#000" textLength="194.14" lengthAdjust="spacingAndGlyphs">g=6.02</text>
<text x="1212.50" y="391.70" font-size="63.76" font-family="Liberation Sans, Arial, sans-serif" font-weight="bold" fill="#000" textLength="192.76" lengthAdjust="spacingAndGlyphs">g=4.30</text>
<text x="1425.50" y="433.20" font-size="61.67" font-family="Liberation Sans, Arial, sans-serif" font-weight="bold" fill="#000" textLength="190.34" lengthAdjust="spacingAndGlyphs">g=3.69</text>
<text x="1668.00" y="401.40" font-size="61.95" font-family="Liberation Sans, Arial, sans-serif" font-weight="bold" fill="#000" textLength="193.32" lengthAdjust="spacingAndGlyphs">g=3.16</text>
<text x="1783.00" y="326.90" font-size="61.87" font-family="Liberation Sans, Arial, sans-serif" font-weight="bold" fill="#000" textLength="190.90" lengthAdjust="spacingAndGlyphs">g=2.98</text>
<text x="197.00" y="1062.90" font-size="86.29" font-family="Liberation Sans, Arial, sans-serif" font-weight="bold" fill="#000" textLength="61.45" lengthAdjust="spacingAndGlyphs">B</text>
<text x="1904.00" y="1057.80" font-size="74.61" font-family="Liberation Sans, Arial, sans-serif" font-weight="bold" fill="#000" textLength="223.07" lengthAdjust="spacingAndGlyphs">20.0 K</text>
<text x="196.50" y="1216.50" font-size="56.76" font-family="Liberation Sans, Arial, sans-serif" font-weight="bold" fill="#000" textLength="245.35" lengthAdjust="spacingAndGlyphs">oxidized</text>
<text x="196.75" y="1379.05" font-size="59.88" font-family="Liberation Sans, Arial, sans-serif" font-weight="bold" fill="#000" textLength="394.39" lengthAdjust="spacingAndGlyphs">50 % reduced</text>
<text x="784.00" y="1717.10" font-size="68.12" font-family="Liberation Sans, Arial, sans-serif" font-weight="bold" fill="#262626" textLength="694.09" lengthAdjust="spacingAndGlyphs">Magnetic field, Gauss</text>
<text x="15.50" y="1638.20" font-size="65.45" font-family="Liberation Sans, Arial, sans-serif" font-weight="bold" fill="#262626" textLength="35.21" lengthAdjust="spacingAndGlyphs">0</text>
<text x="390.00" y="1639.00" font-size="63.29" font-family="Liberation Sans, Arial, sans-serif" font-weight="bold" fill="#262626" textLength="100.66" lengthAdjust="spacingAndGlyphs">500</text>
<text x="778.00" y="1639.60" font-size="64.01" font-family="Liberation Sans, Arial, sans-serif" font-weight="bold" fill="#262626" textLength="137.35" lengthAdjust="spacingAndGlyphs">1000</text>
<text x="1184.50" y="1639.60" font-size="64.01" font-family="Liberation Sans, Arial, sans-serif" font-weight="bold" fill="#262626" textLength="136.94" lengthAdjust="spacingAndGlyphs">1500</text>
<text x="1592.50" y="1639.60" font-size="64.01" font-family="Liberation Sans, Arial, sans-serif" font-weight="bold" fill="#262626" textLength="135.79" lengthAdjust="spacingAndGlyphs">2000</text>
<text x="2000.50" y="1639.60" font-size="64.01" font-family="Liberation Sans, Arial, sans-serif" font-weight="bold" fill="#262626" textLength="135.81" lengthAdjust="spacingAndGlyphs">2500</text>
</svg></body></html>
